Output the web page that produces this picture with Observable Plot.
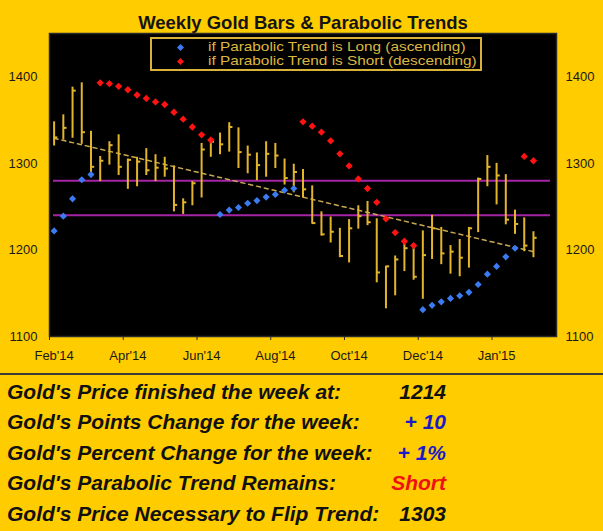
<!DOCTYPE html>
<html>
<head>
<meta charset="utf-8">
<script src="https://cdn.jsdelivr.net/npm/d3@7"></script>
<script src="https://cdn.jsdelivr.net/npm/@observablehq/plot@0.6"></script>
<style>
  body { margin: 0; background: #FFCC00; }
  #wrap { position: relative; width: 603px; height: 531px; background: #FFCC00; overflow: hidden;
          font-family: Arial, "Liberation Sans", sans-serif; }
  #title { position: absolute; left: 0; top: 11.5px; width: 606px; text-align: center;
           font-weight: bold; font-size: 18.5px; line-height: 22px; color: #141414; }
  #plot { position: absolute; left: 0; top: 0; }
  #legend { position: absolute; left: 150px; top: 37px; width: 332px; height: 34px; box-sizing: border-box;
            border: 2px solid #D9B23A; background: #000; }
  .lg { position: absolute; left: 208px; font-size: 13px; line-height: 14.6px; color: #DDB840; white-space: nowrap;
        transform: scaleX(1.18); transform-origin: 0 50%; }
  .dm { position: absolute; width: 5px; height: 5px; transform: rotate(45deg); }
  #sep { position: absolute; left: 0; top: 373px; width: 603px; height: 2px; background: #3a3a3a; }
  .row { position: absolute; left: 0; width: 603px; height: 30.5px; font-size: 21px; line-height: 30.5px;
         font-weight: bold; font-style: italic; color: #111; white-space: nowrap; }
  .row .k { position: absolute; left: 7px; }
  .row .v { position: absolute; left: 0; width: 446px; text-align: right; }
</style>
</head>
<body>
<div id="wrap">
  <div id="plot"></div>
  <div id="title"></div>
  <div id="legend"></div>
  <div id="sep"></div>
  <div id="table"></div>
</div>
<script>
// ---- Data ----
const chartTitle = "Weekly Gold Bars & Parabolic Trends";
const legendLabels = ["if Parabolic Trend is Long (ascending)", "if Parabolic Trend is Short (descending)"];

// weekly HLC bars, week 1 .. 53 (late Feb 2014 .. late Feb 2015)
const high  = [1348,1356,1388,1393,1337,1308,1325,1333,1305,1307,
               1317,1310,1307,1297,1259,1279,1323,1327,1335,1347,
               1341,1320,1312,1325,1323,1305,1299,1293,1274,1244,
               1238,1225,1235,1251,1256,1236,1181,1193,1208,1206,
               1222,1240,1226,1205,1212,1226,1283,1309,1300,1287,
               1246,1237,1221];
const low   = [1320,1327,1329,1322,1287,1279,1298,1286,1270,1273,
               1286,1279,1284,1244,1241,1251,1260,1307,1310,1313,
               1294,1288,1280,1284,1294,1275,1266,1260,1230,1216,
               1208,1191,1185,1224,1228,1162,1132,1147,1175,1165,
               1143,1189,1183,1172,1169,1179,1220,1273,1252,1229,
               1218,1198,1191];
const close = [1330,1341,1384,1336,1296,1303,1321,1296,1304,1302,
               1292,1295,1294,1252,1255,1277,1316,1325,1322,1342,
               1313,1310,1298,1311,1309,1283,1290,1270,1231,1218,
               1221,1193,1225,1239,1232,1174,1181,1189,1202,1169,
               1194,1225,1196,1198,1191,1225,1282,1296,1286,1235,
               1230,1205,1214];
// parabolic SAR value per week and its side (L = long/ascending, S = short/descending)
const sar = [1222,1239,1259,1281,1287,
             1393,1392,1389,1385,1379,1375,1371,1368,1359,1351,1342,1333,1327,
             1241,1246,1249,1254,1257,1261,1264,1269,1271,
             1348,1343,1336,1326,1311,1297,1282,1271,1255,1236,1220,1210,1205,
             1131,1136,1140,1144,1147,1151,1160,1172,1181,1192,1202,
             1308,1303];
const sarSide = ["L","L","L","L","L",
                 "S","S","S","S","S","S","S","S","S","S","S","S","S",
                 "L","L","L","L","L","L","L","L","L",
                 "S","S","S","S","S","S","S","S","S","S","S","S","S",
                 "L","L","L","L","L","L","L","L","L","L","L",
                 "S","S"];
// dashed linear trend (week, value) end points
const trendWeek = [1, 53];
const trendValue = [1329, 1198];
// horizontal reference levels
const levels = [1280, 1240];
// axes
const yTicks = [1100, 1200, 1300, 1400];
const xTickWeeks = [0.5, 8.5, 16.5, 24.5, 32.5, 40.5, 48.5];
const xLabelWeeks = [1, 9, 17, 25, 33, 41, 49];
const xLabels = ["Feb'14", "Apr'14", "Jun'14", "Aug'14", "Oct'14", "Dec'14", "Jan'15"];
// summary table
const tableLabels = ["Gold's Price finished the week at:", "Gold's Points Change for the week:",
                     "Gold's Percent Change for the week:", "Gold's Parabolic Trend Remains:",
                     "Gold's Price Necessary to Flip Trend:"];
const tableValues = ["1214", "+ 10", "+ 1%", "Short", "1303"];
const tableColors = ["#111111", "#1a1ac8", "#1a1ac8", "#f01010", "#111111"];

// ---- Build ----
const C = { bar: "#E3B52B", blue: "#3B7BF2", red: "#FF1212", magenta: "#A424A4", dash: "#C9A850" };

const bars = high.map((h, k) => ({ week: k + 1, high: h, low: low[k], close: close[k], sar: sar[k], side: sarSide[k] }));
const trend = trendWeek.map((w, k) => ({ week: w, value: trendValue[k] }));

const chart = Plot.plot({
  width: 603, height: 374,
  marginTop: 33, marginBottom: 38, marginLeft: 49, marginRight: 47,
  style: { background: "transparent", fontFamily: "Arial, 'Liberation Sans', sans-serif", fontSize: "13px", color: "#1a1a1a" },
  x: { type: "linear", domain: [0.5, 55.5] },
  y: { domain: [1100, 1450] },
  marks: [
    Plot.frame({ fill: "black" }),
    Plot.ruleY(levels, { y: d => d, stroke: C.magenta, strokeWidth: 2, insetLeft: 4, insetRight: 6 }),
    Plot.line(trend, { x: "week", y: "value", stroke: C.dash, strokeWidth: 1.5, strokeDasharray: "4,4" }),
    Plot.ruleX(bars, { x: "week", y1: "low", y2: "high", stroke: C.bar, strokeWidth: 2 }),
    Plot.ruleY(bars, { y: "close", x1: "week", x2: d => d.week + 0.4, stroke: C.bar, strokeWidth: 2 }),
    Plot.dot(bars.filter(d => d.side === "L"), { x: "week", y: "sar", symbol: "diamond2", r: 3.2, fill: C.blue }),
    Plot.dot(bars.filter(d => d.side === "S"), { x: "week", y: "sar", symbol: "diamond2", r: 3.3, fill: C.red }),
    Plot.frame({ stroke: "#2a2a2a", strokeWidth: 1.5 }),
    Plot.axisY({ anchor: "left", ticks: yTicks, tickSize: 0, tickPadding: 12, label: null, tickFormat: d => String(d) }),
    Plot.axisY({ anchor: "right", ticks: yTicks, tickSize: 0, tickPadding: 9, label: null, tickFormat: d => String(d) }),
    Plot.axisX({ ticks: xTickWeeks, tickSize: 4, tickFormat: () => "", label: null, stroke: "#2a2a2a" }),
    Plot.axisX({ ticks: xLabelWeeks, tickSize: 0, tickPadding: 14, label: null,
                 tickFormat: d => xLabels[xLabelWeeks.indexOf(d)] })
  ]
});
document.getElementById("plot").appendChild(chart);

document.getElementById("title").textContent = chartTitle;

// legend
const wrap = document.getElementById("wrap");
[[C.blue, 44.5, 39.7], [C.red, 58.5, 54.3]].forEach(([col, dTop, tTop], k) => {
  const dm = document.createElement("div");
  dm.className = "dm"; dm.style.background = col; dm.style.left = "177.5px"; dm.style.top = dTop + "px";
  wrap.appendChild(dm);
  const t = document.createElement("div");
  t.className = "lg"; t.style.top = tTop + "px"; t.textContent = legendLabels[k];
  wrap.appendChild(t);
});

// table
const table = document.getElementById("table");
tableLabels.forEach((lab, k) => {
  const row = document.createElement("div");
  row.className = "row"; row.style.top = (376.5 + 30.5 * k) + "px";
  const a = document.createElement("span"); a.className = "k"; a.textContent = lab;
  const b = document.createElement("span"); b.className = "v"; b.textContent = tableValues[k]; b.style.color = tableColors[k];
  row.appendChild(a); row.appendChild(b);
  table.appendChild(row);
});
</script>
</body>
</html>
